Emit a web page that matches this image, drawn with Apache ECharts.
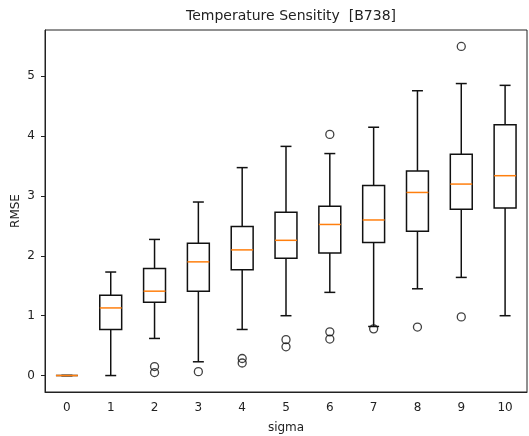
<!DOCTYPE html>
<html>
<head>
<meta charset="utf-8">
<script src="https://cdn.jsdelivr.net/npm/echarts@6/dist/echarts.min.js"></script>
<style>html,body{margin:0;padding:0;background:#fff}#c{width:529px;height:436px}</style>
</head>
<body>
<div id="c"></div>
<script>
const categories = ['0','1','2','3','4','5','6','7','8','9','10'];
const whiskerLow  = [0, 0.00, 0.62, 0.23, 0.77, 1.00, 1.39, 0.82, 1.45, 1.64, 1.00];
const q1          = [0, 0.77, 1.225, 1.41, 1.77, 1.96, 2.05, 2.225, 2.41, 2.78, 2.80];
const median      = [0, 1.13, 1.41, 1.90, 2.10, 2.26, 2.525, 2.60, 3.06, 3.20, 3.34];
const q3          = [0, 1.34, 1.79, 2.21, 2.49, 2.73, 2.83, 3.175, 3.42, 3.70, 4.19];
const whiskerHigh = [0, 1.73, 2.275, 2.90, 3.475, 3.83, 3.71, 4.15, 4.76, 4.88, 4.85];
const outliers = [
  ['2',0.15],['2',0.05],['3',0.065],['4',0.285],['4',0.21],['5',0.60],['5',0.48],
  ['6',4.03],['6',0.73],['6',0.61],['7',0.78],['8',0.81],['9',5.50],['9',0.98]
];
const yTicks = [0,1,2,3,4,5];

const boxData = categories.map((c,i)=>[i, whiskerLow[i], q1[i], median[i], q3[i], whiskerHigh[i]]);
const FONT = 'DejaVu Sans';
const TXT = '#222';

function renderBox(params, api){
  const i = api.value(0);
  const band = api.size([1,0])[0];
  const bw = band*0.5, cw = band*0.25;
  const pLo = api.coord([i, api.value(1)]);
  const pQ1 = api.coord([i, api.value(2)]);
  const pMd = api.coord([i, api.value(3)]);
  const pQ3 = api.coord([i, api.value(4)]);
  const pHi = api.coord([i, api.value(5)]);
  const x = pQ1[0];
  const ls = {stroke:'#111', lineWidth:1.5, fill:null};
  return {type:'group', children:[
    {type:'line', shape:{x1:x,y1:pLo[1],x2:x,y2:pQ1[1]}, style:ls},
    {type:'line', shape:{x1:x,y1:pQ3[1],x2:x,y2:pHi[1]}, style:ls},
    {type:'line', shape:{x1:x-cw/2,y1:pLo[1],x2:x+cw/2,y2:pLo[1]}, style:ls},
    {type:'line', shape:{x1:x-cw/2,y1:pHi[1],x2:x+cw/2,y2:pHi[1]}, style:ls},
    {type:'rect', shape:{x:x-bw/2,y:pQ3[1],width:bw,height:pQ1[1]-pQ3[1]}, style:{stroke:'#111',lineWidth:1.5,fill:'none'}},
    {type:'line', shape:{x1:x-bw/2,y1:pMd[1],x2:x+bw/2,y2:pMd[1]}, style:{stroke:'#ff7f0e',lineWidth:1.5}}
  ]};
}

const chart = echarts.init(document.getElementById('c'), null, {renderer:'canvas'});
chart.setOption({
  animation:false,
  backgroundColor:'#fff',
  title:{text:'Temperature Sensitity  [B738]', left:286, top:4, textAlign:'center',
    textStyle:{fontFamily:FONT, fontSize:14, fontWeight:'normal', color:TXT}},
  grid:{left:45, top:30, right:2, bottom:44, outerBoundsMode:'none', containLabel:false,
    show:true, borderColor:'#222', borderWidth:1, backgroundColor:'transparent'},
  xAxis:{type:'category', data:categories, boundaryGap:true,
    name:'sigma', nameLocation:'middle', nameGap:30,
    nameTextStyle:{fontFamily:FONT, fontSize:12, color:TXT},
    axisLine:{onZero:false, lineStyle:{color:'#222', width:1}},
    axisTick:{alignWithLabel:true, length:4, lineStyle:{color:'#222'}},
    axisLabel:{fontFamily:FONT, fontSize:12, color:TXT, margin:10},
    splitLine:{show:false}},
  yAxis:{type:'value', min:-0.275, max:5.775,
    name:'RMSE', nameLocation:'middle', nameGap:23, nameRotate:90, nameMoveOverlap:false,
    nameTextStyle:{fontFamily:FONT, fontSize:12, color:TXT},
    axisLine:{show:true, onZero:false, lineStyle:{color:'#222', width:1}},
    axisTick:{show:true, length:4, customValues:yTicks, lineStyle:{color:'#222'}},
    axisLabel:{fontFamily:FONT, fontSize:12, color:TXT, margin:10, customValues:yTicks},
    splitLine:{show:false}},
  series:[
    {type:'custom', renderItem:renderBox, data:boxData, encode:{x:0, y:[1,2,3,4,5]}, z:2},
    {type:'scatter', data:outliers, symbol:'circle', symbolSize:8,
      itemStyle:{color:'rgba(0,0,0,0)', borderColor:'#111', borderWidth:1.3}, z:3}
  ]
});
</script>
</body>
</html>
